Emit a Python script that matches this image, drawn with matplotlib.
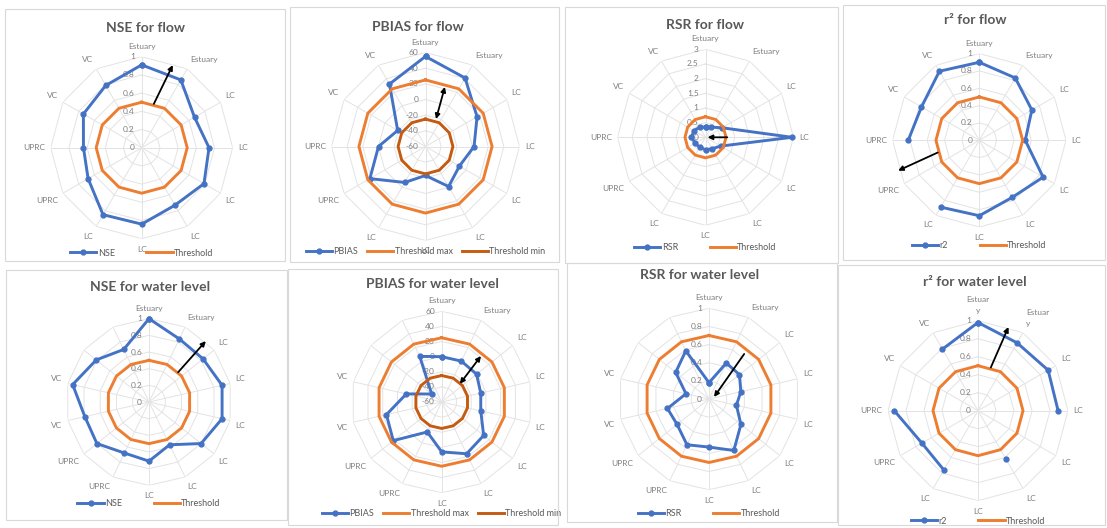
import numpy as np
import matplotlib
matplotlib.use('Agg')
import matplotlib.pyplot as plt
from matplotlib.patches import Rectangle

plt.rcParams['font.family'] = ['Lato', 'DejaVu Sans']

W, H = 1107, 528

# categories (clockwise from the top)
cats_top = ['Estuary', 'Estuary', 'LC', 'LC', 'LC', 'LC', 'LC', 'LC', 'UPRC', 'UPRC', 'VC', 'VC']
cats_wl = cats_top + ['', '']
cats_r2_wl = ['Estuar\ny', 'Estuar\ny', 'LC', 'LC', 'LC', 'LC', 'LC', 'LC', 'UPRC', 'UPRC', 'VC', 'VC']

nan = np.nan
# flow
nse_flow = [0.91, 0.86, 0.67, 0.74, 0.79, 0.73, 0.84, 0.85, 0.68, 0.64, 0.74, 0.79]
pbias_flow = [55, 41, 16, 2, -10, -1, -23, -7, 22, 0, -19, 32]
rsr_flow = [0.35, 0.40, 0.65, 2.95, 0.60, 0.45, 0.42, 0.40, 0.40, 0.48, 0.45, 0.40]
r2_flow = [0.90, 0.83, 0.70, 0.53, 0.85, 0.76, 0.87, 0.89, nan, 0.82, 0.77, 0.92]
# water level
nse_wl = [1.0, 0.84, 0.83, 0.90, 0.90, 0.80, 0.57, 0.71, 0.68, 0.80, 0.79, 0.94, 0.81, 0.70]
pbias_wl = [0, 0, -1, -7, -7, 11, 16, 6, -16, 22, 15, -12, -43, 7]
rsr_wl = [0.18, 0.44, 0.43, 0.36, 0.31, 0.45, 0.63, 0.53, 0.56, 0.45, 0.47, 0.26, 0.47, 0.59]
r2_wl = [0.98, 0.87, 0.90, 0.89, nan, 0.62, nan, 0.76, 0.72, 0.93, nan, 0.79]

# thresholds
nse_thr = 0.5
pbias_max = 25
pbias_min = -25
rsr_thr = 0.7
r2_thr = 0.5

ticks_01 = [0, 0.2, 0.4, 0.6, 0.8, 1.0]
labels_01 = ['0', '0.2', '0.4', '0.6', '0.8', '1']
ticks_pb = [-60, -40, -20, 0, 20, 40, 60]
labels_pb = ['-60', '-40', '-20', '0', '20', '40', '60']
ticks_rsr = [0, 0.5, 1, 1.5, 2, 2.5, 3]
labels_rsr = ['0', '0.5', '1', '1.5', '2', '2.5', '3']

BLUE = '#4472C4'
ORANGE = '#ED7D31'
BROWN = '#C55A11'
GRID = '#E3E3E3'
TXT = '#7F7F7F'

fig = plt.figure(figsize=(W / 100, H / 100), dpi=100)


def radar(box, centre, R, title, title_xy, legend_y, cats, series, ticks, ticklabels, arrow, double=False):
    # panel frame
    x0, y0, x1, y1 = box
    fig.patches.append(Rectangle((x0 / W, 1 - y1 / H), (x1 - x0) / W, (y1 - y0) / H,
                                 transform=fig.transFigure, fill=False, ec='#D9D9D9', lw=0.8))
    fig.text(title_xy[0] / W, 1 - title_xy[1] / H, title, ha='center', va='center',
             fontsize=10, fontweight='bold', color='#595959')

    cx, cy = centre
    ax = fig.add_axes([(cx - R) / W, 1 - (cy + R) / H, 2 * R / W, 2 * R / H], projection='polar')
    ax.set_theta_zero_location('N')
    ax.set_theta_direction(-1)
    n = len(cats)
    ang = np.arange(n) * 2 * np.pi / n
    angc = np.append(ang, ang[0])
    ax.set_ylim(ticks[0], ticks[-1])
    ax.grid(False)
    ax.spines['polar'].set_visible(False)
    ax.set_xticks([])
    ax.set_yticks([])
    ax.patch.set_visible(False)

    # polygon grid
    for t in ticks[1:]:
        ax.plot(angc, [t] * (n + 1), color=GRID, lw=0.7, zorder=1)
    for a in ang:
        ax.plot([a, a], [ticks[0], ticks[-1]], color=GRID, lw=0.7, zorder=1)
    for t, lab in zip(ticks, ticklabels):
        ax.annotate(lab, (0, t), xytext=(-5, 0), textcoords='offset points',
                    ha='right', va='center', fontsize=6, color=TXT, zorder=2)
    for a, c in zip(ang, cats):
        s, co = np.sin(a), np.cos(a)
        ha = 'center' if abs(s) < 0.2 else ('left' if s > 0 else 'right')
        va = 'center' if abs(co) < 0.2 else ('bottom' if co > 0 else 'top')
        ax.annotate(c, (a, ticks[-1]), xytext=(4 * s, 5 * co), textcoords='offset points',
                    ha=ha, va=va, fontsize=6, color=TXT, annotation_clip=False, linespacing=1.6)

    for label, vals, col, marker in series:
        v = np.append(vals, vals[0])
        ax.plot(angc, v, color=col, lw=2.1, marker=marker, ms=3.5, label=label,
                zorder=3, clip_on=False)

    (t0, r0), (t1, r1) = arrow
    ax.annotate('', xy=(np.radians(t1), r1), xytext=(np.radians(t0), r0),
                arrowprops=dict(arrowstyle='<|-|>' if double else '-|>', color='black',
                                lw=1.3, mutation_scale=7, shrinkA=0, shrinkB=0), zorder=5)

    ax.legend(loc='center', bbox_to_anchor=(cx / W, 1 - legend_y / H), bbox_transform=fig.transFigure,
              ncol=len(series), frameon=False, fontsize=6.5, handlelength=2.9,
              columnspacing=3.5 if len(series) == 2 else 1.0, labelcolor='#595959',
              handletextpad=0.15)
    return ax


def thr(v, n):
    return [v] * n


radar((5, 9, 285, 261), (141.7, 147.7), 91, 'NSE for flow', (146, 28), 253, cats_top,
      [('NSE', nse_flow, BLUE, 'o'), ('Threshold', thr(nse_thr, 12), ORANGE, None)],
      ticks_01, labels_01, ((15.5, 0.5), (20.6, 0.97)))

radar((290, 7, 559, 262), (425.5, 146.5), 94, 'PBIAS for flow', (418, 27), 252, cats_top,
      [('PBIAS', pbias_flow, BLUE, 'o'), ('Threshold max', thr(pbias_max, 12), ORANGE, None),
       ('Threshold min', thr(pbias_min, 12), BROWN, None)],
      ticks_pb, labels_pb, ((21, -22.5), (18, 20)), double=True)

radar((565, 7, 838, 263), (705.5, 137.3), 88, 'RSR for flow', (705, 25), 248, cats_top,
      [('RSR', rsr_flow, BLUE, 'o'), ('Threshold', thr(rsr_thr, 12), ORANGE, None)],
      ticks_rsr, labels_rsr, ((90, 0.74), (90, 0.07)))

radar((843, 5, 1105, 260), (979.3, 140.3), 86.7, 'r² for flow', (975, 20), 246, cats_top,
      [('r2', r2_flow, BLUE, 'o'), ('Threshold', thr(r2_thr, 12), ORANGE, None)],
      ticks_01, labels_01, ((253.6, 0.5), (249.5, 1.0)))

radar((6, 270, 287, 520), (149, 402), 83.3, 'NSE for water level', (150, 287), 504, cats_wl,
      [('NSE', nse_wl, BLUE, 'o'), ('Threshold', thr(nse_thr, 14), ORANGE, None)],
      ticks_01, labels_01, ((44.4, 0.5), (43, 1.0)))

radar((288, 269, 558, 525), (441.7, 402), 90.7, 'PBIAS for water level', (432, 284), 514, cats_wl,
      [('PBIAS', pbias_wl, BLUE, 'o'), ('Threshold max', thr(pbias_max, 14), ORANGE, None),
       ('Threshold min', thr(pbias_min, 14), BROWN, None)],
      ticks_pb, labels_pb, ((45, -26), (40.5, 20)), double=True)

radar((567, 263, 837, 522), (709, 399), 90.7, 'RSR for water level', (700, 275), 514, cats_wl,
      [('RSR', rsr_wl, BLUE, 'o'), ('Threshold', thr(rsr_thr, 14), ORANGE, None)],
      ticks_01, labels_01, ((38, 0.63), (68, 0.06)))

radar((838, 265, 1105, 525), (978, 410.7), 90, 'r² for water level', (975, 282), 521, cats_r2_wl,
      [('r2', r2_wl, BLUE, 'o'), ('Threshold', thr(r2_thr, 12), ORANGE, None)],
      ticks_01, labels_01, ((16.5, 0.5), (20, 0.99)))

fig.savefig('out.png', dpi=100, facecolor='white')
